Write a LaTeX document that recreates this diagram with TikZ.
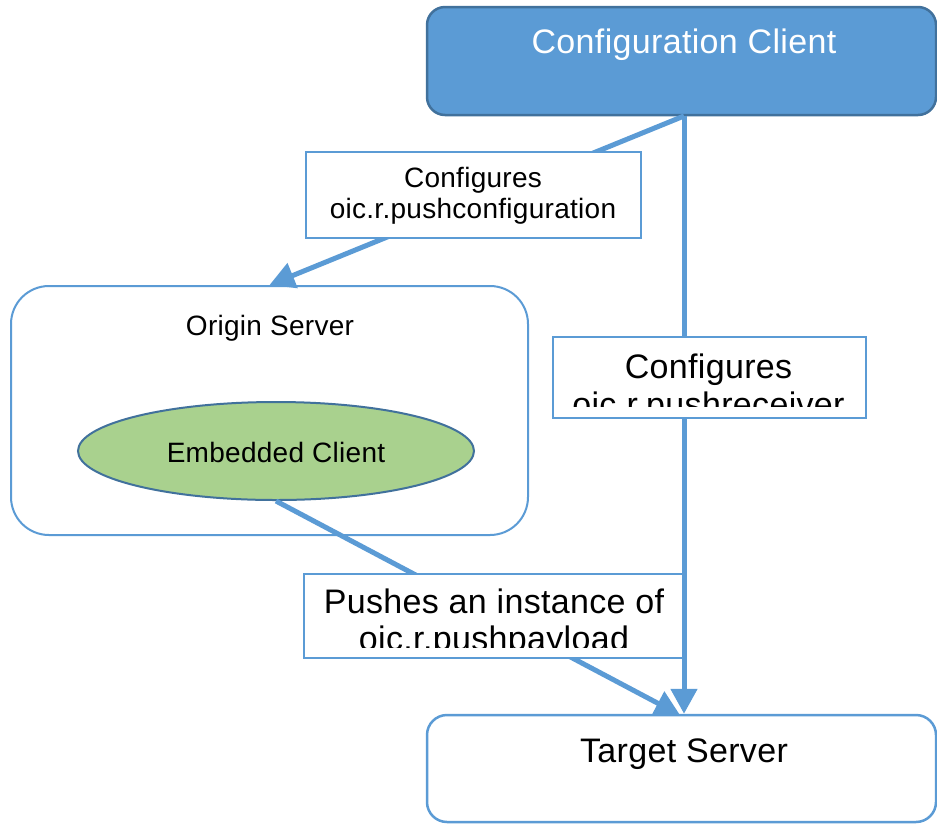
\documentclass[tikz,border=0pt]{standalone}
\usepackage{fontspec}
\setmainfont[LetterSpace=1.0]{Liberation Sans}
\usetikzlibrary{arrows.meta,shapes.geometric}
\definecolor{ublue}{HTML}{5B9BD5}
\definecolor{dblue}{HTML}{41719C}
\definecolor{ugreen}{HTML}{A9D18E}
\begin{document}
\begin{tikzpicture}[x=1pt,y=-1pt,
  bigtext/.style={anchor=base,inner sep=0pt,font=\fontsize{34}{40}\selectfont},
  smalltext/.style={anchor=base,inner sep=0pt,font=\fontsize{28}{31}\selectfont},
  ccbox/.style={draw=dblue,line width=2.5pt,fill=ublue,rounded corners=18pt,inner sep=0pt},
  srvbox/.style={draw=ublue,line width=2pt,fill=white,inner sep=0pt},
  ellbox/.style={ellipse,draw=dblue,line width=2pt,fill=ugreen,inner sep=0pt},
  lblbox/.style={draw=ublue,line width=2pt,fill=white,inner sep=0pt},
  conn/.style={draw=ublue,line width=5pt,-{Triangle[length=25pt,width=26pt]}}
]
\useasboundingbox (0,0) rectangle (937,823);

% main nodes
\node[srvbox,rounded corners=38pt,minimum width=517pt,minimum height=249pt] (os) at (269.5,410.5) {};
\node[smalltext] (ost) at (270,335) {Origin Server};
\node[ellbox,minimum width=396pt,minimum height=98pt] (ec) at (276,451) {};
\node[smalltext] (ect) at (276,462) {Embedded Client};
\node[srvbox,line width=2.5pt,rounded corners=20pt,minimum width=509pt,minimum height=107pt] (ts) at (681.5,768.5) {};
\node[bigtext] (tst) at (684,762) {Target Server};
\node[ccbox,minimum width=509pt,minimum height=108pt] (cc) at (681.5,61) {};
\node[bigtext,text=white] (cct) at (684,53) {Configuration Client};

% connectors
\coordinate (ccout) at (684,116);
\coordinate (tsin) at (680,715);
\draw[conn] (ccout) -- (os.north);
\draw[conn] (ccout) -- (ccout |- ts.north);
\draw[conn] (ec.south) -- (tsin);

% label 1
\node[lblbox,minimum width=335pt,minimum height=86pt] (l1) at (473.5,195) {};
\node[smalltext] (l1a) at (473,187) {Configures};
\node[smalltext] (l1b) at (473,218) {oic.r.pushconfiguration};

% label 2
\node[lblbox,minimum width=313pt,minimum height=81pt] (l2) at (709.5,377.5) {};
\begin{scope}
\clip (555,339) rectangle (864,406);
\node[bigtext] (l2a) at (708.5,378) {Configures};
\node[bigtext] (l2b) at (708.5,416) {oic.r.pushreceiver};
\end{scope}

% label 3
\node[lblbox,minimum width=379pt,minimum height=84pt] (l3) at (493.5,616) {};
\begin{scope}
\clip (306,576) rectangle (681,647);
\node[bigtext] (l3a) at (494,613) {Pushes an instance of};
\node[bigtext] (l3b) at (494,650) {oic.r.pushpayload};
\end{scope}
\end{tikzpicture}
\end{document}
